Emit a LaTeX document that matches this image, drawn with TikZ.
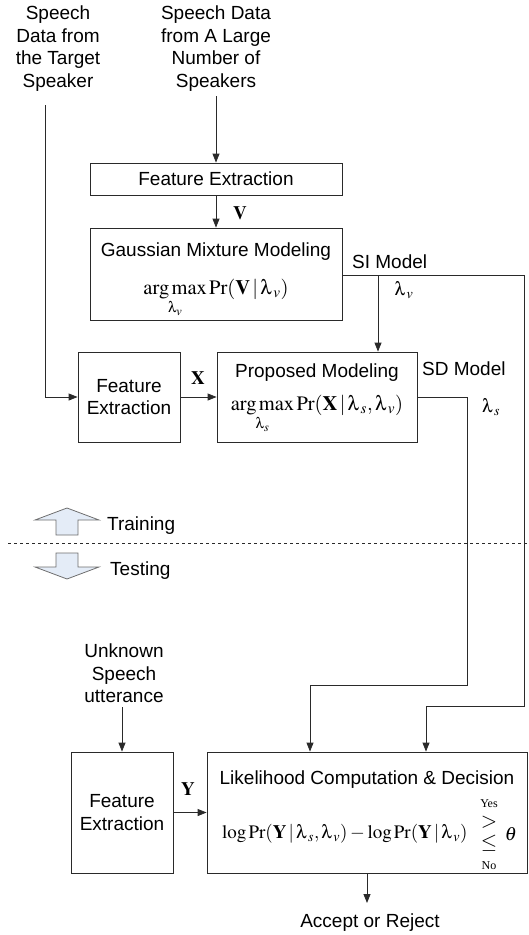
\documentclass[tikz,border=0pt]{standalone}
\usepackage{amsmath}
\usepackage{mathptmx}
\usepackage[Symbol]{upgreek}
\usepackage{fontspec}
\setmainfont{Liberation Serif}
\setsansfont{Liberation Sans}
\usetikzlibrary{arrows.meta}
\definecolor{linec}{HTML}{2A2A2A}
\definecolor{blockfill}{HTML}{E4ECF7}
\definecolor{blockline}{HTML}{6E6E6E}
\newcommand{\lam}{\uplambda}
\begin{document}
\begin{tikzpicture}[x=1pt,y=-1pt,
  txt/.style={font=\sffamily\fontsize{19}{22.5}\selectfont, align=center, inner sep=0pt},
  mth/.style={font=\fontsize{20.5}{22}\selectfont, inner sep=0pt},
  mths/.style={font=\fontsize{19}{22}\selectfont, inner sep=0pt},
  lbl/.style={font=\fontsize{19}{22}\selectfont, inner sep=0pt},
  yn/.style={font=\fontsize{12}{12}\selectfont, inner sep=0pt},
  rel/.style={font=\fontsize{21}{21}\selectfont, inner sep=0pt},
  boxx/.style={draw=linec, line width=0.8pt, inner sep=0pt},
  arr/.style={draw=linec, line width=0.8pt, -{Triangle[length=9pt,width=7pt]}},
  ln/.style={draw=linec, line width=0.8pt},
  blockarrow/.style={draw=blockline, fill=blockfill, line width=0.8pt, line join=miter}
]
\useasboundingbox (0,0) rectangle (529,935);

% top texts
\node[txt] (tgt) at (58,48.5) {Speech\\Data from\\the Target\\Speaker};
\node[txt] (big) at (216,48.5) {Speech Data\\from A Large\\Number of\\Speakers};

% boxes
\node[boxx, txt, minimum width=252pt, minimum height=32pt] (fe1) at (216,179) {Feature Extraction};
\node[boxx, minimum width=252pt, minimum height=92pt] (gmm) at (216,274) {};
\node[txt] (gmmt) at (216,252) {Gaussian Mixture Modeling};
\node[mth] (gmmf) at (216,298) {$\mathop{\mathrm{arg\,max}}\limits_{\lam_v}\mathrm{Pr}(\mathbf{V}\,|\,\lam_{\,v})$};

\node[boxx, txt, minimum width=102pt, minimum height=90pt] (fe2) at (129,397) {Feature\\Extraction};
\node[boxx, minimum width=200pt, minimum height=90pt] (pm) at (317,397) {};
\node[txt] (pmt) at (317,373) {Proposed Modeling};
\node[mth] (pmf) at (317,414) {$\mathop{\mathrm{arg\,max}}\limits_{\lam_s}\mathrm{Pr}(\mathbf{X}\,|\,\lam_{\,s},\lam_{\,v})$};

% labels
\node[lbl] (vl) at (240,213) {$\mathbf{V}$};
\node[lbl] (xl) at (198,378) {$\mathbf{X}$};
\node[txt, anchor=west] (sil) at (352,262) {SI Model};
\node[lbl] (lvl) at (404,290) {$\lam_{\,v}$};
\node[txt, anchor=west] (sdl) at (422,369) {SD Model};
\node[lbl] (lsl) at (491,407) {$\lam_{\,s}$};

% training / testing
\draw[blockarrow] (67,508) -- (99,520) -- (78,520) -- (78,535) -- (56,535) -- (56,520) -- (35,520) -- cycle;
\node[txt, anchor=west] (trn) at (107,526) {Training};
\draw[linec, dashed, line width=0.6pt] (8,543) -- (529,543);
\draw[blockarrow] (56,553) -- (78,553) -- (78,567) -- (99,567) -- (67,579) -- (35,567) -- (56,567) -- cycle;
\node[txt, anchor=west] (tst) at (110,571) {Testing};

% testing part
\node[txt] (unk) at (124,673.5) {Unknown\\Speech\\utterance};
\node[boxx, txt, minimum width=102pt, minimum height=121pt] (fe3) at (122,812.5) {Feature\\Extraction};
\node[boxx, minimum width=320pt, minimum height=121pt] (lk) at (367,812.5) {};
\node[txt] (lkt) at (367,780) {Likelihood Computation \& Decision};
\node[mths, anchor=west] (lkf) at (222,834) {$\log\mathrm{Pr}(\mathbf{Y}\,|\,\lam_{\,s},\lam_{\,v})-\log\mathrm{Pr}(\mathbf{Y}\,|\,\lam_{\,v})$};
\node[yn] (yes) at (489,804) {Yes};
\node[rel] (gt) at (489,822) {$>$};
\node[rel] (le) at (489,843) {$\leq$};
\node[yn] (no) at (489,866) {No};
\node[mths] (th) at (511,834) {$\theta$};
\node[lbl] (yl) at (188,789) {$\mathbf{Y}$};
\node[txt] (acc) at (370,923) {Accept or Reject};

% coordinates
\coordinate (t0) at (45,105);
\coordinate (b0) at (216,96);
\coordinate (si0) at (378,275);
\coordinate (si1) at (524,275);
\coordinate (si2) at (524,706);
\coordinate (si3) at (426,706);
\coordinate (sd1) at (467,397);
\coordinate (sd2) at (467,685);
\coordinate (sd3) at (310,685);
\coordinate (u0) at (122,707);
\coordinate (out) at (367,903);

% connectors
\draw[arr] (t0) |- (fe2.west);
\draw[arr] (b0) -- (fe1.north);
\draw[arr] (fe1.south) -- (gmm.north);
\draw[ln] (gmm.east |- si1) -- (si1) -- (si2) -- (si3);
\draw[arr] (si3) -- (si3 |- lk.north);
\draw[arr] (si0) -- (si0 |- pm.north);
\draw[ln] (pm.east) -- (sd1) -- (sd2) -- (sd3);
\draw[arr] (sd3) -- (sd3 |- lk.north);
\draw[arr] (fe2.east) -- (pm.west);
\draw[arr] (u0) -- (fe3.north);
\draw[arr] (fe3.east) -- (fe3.east -| lk.west);
\draw[arr] (lk.south) -- (out);
\end{tikzpicture}
\end{document}
